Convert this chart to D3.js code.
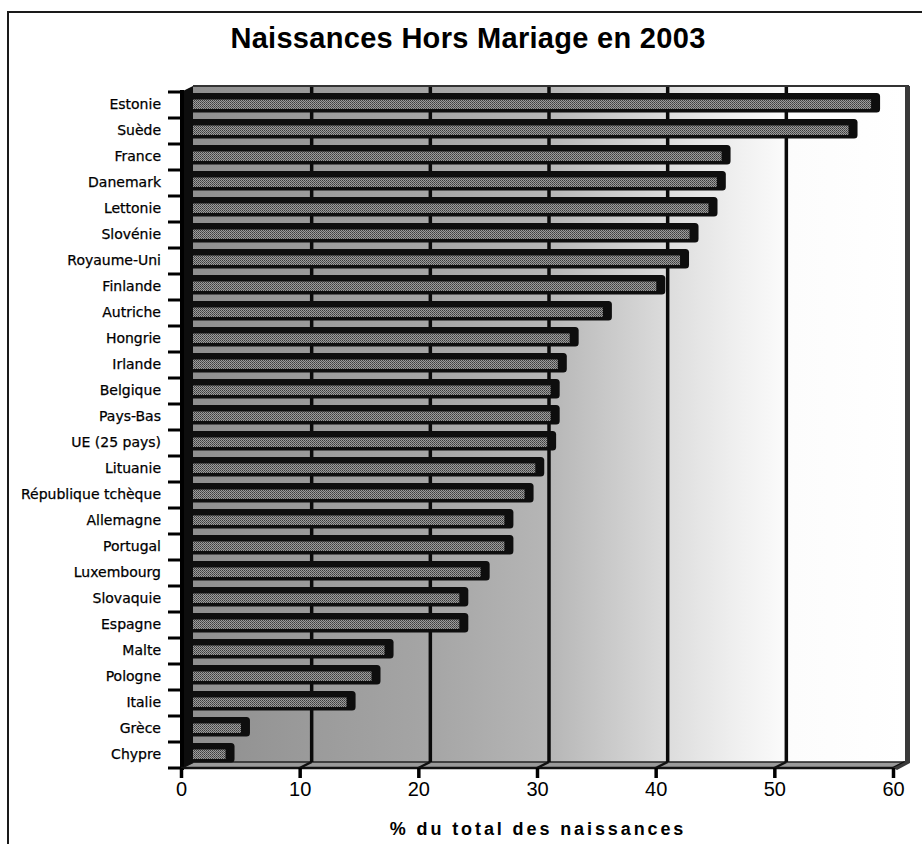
<!DOCTYPE html>
<html><head><meta charset="utf-8">
<script src="https://cdn.jsdelivr.net/npm/d3@7"></script>
<style>html,body{margin:0;padding:0;background:#fff;}svg{display:block;}</style>
</head><body>
<svg id="chart" width="922" height="844"></svg>
<script>
const title = "Naissances Hors Mariage en 2003";
const xTitle = "% du total des naissances";
const categories = ["Estonie","Suède","France","Danemark","Lettonie","Slovénie","Royaume-Uni","Finlande","Autriche","Hongrie","Irlande","Belgique","Pays-Bas","UE (25 pays)","Lituanie","République tchèque","Allemagne","Portugal","Luxembourg","Slovaquie","Espagne","Malte","Pologne","Italie","Grèce","Chypre"];
const values = [57.9,56.0,45.3,44.9,44.2,42.6,41.8,39.8,35.3,32.5,31.5,30.9,30.9,30.6,29.6,28.7,27.0,27.0,25.0,23.2,23.2,16.9,15.8,13.7,4.8,3.5];
const xTicks = [0,10,20,30,40,50,60];
const gridTicks = [10,20,30,40,50];

const svg = d3.select("#chart");
const depthX = 12, depthY = 6;
const xFront = d3.scaleLinear().domain([0,60]).range([181,893]);
const xBack = d3.scaleLinear().domain([0,60]).range([181+depthX,893+depthX]);
const y = d3.scaleBand().domain(categories).range([92,768]).padding(0);
const yTop = 92 - depthY, yBottomBack = 768 - depthY, yBottom = 768;

const defs = svg.append("defs");
const pat = defs.append("pattern").attr("id","barfill").attr("patternUnits","userSpaceOnUse")
  .attr("width",2).attr("height",2);
pat.append("rect").attr("width",2).attr("height",2).attr("fill","#9c9c9c");
pat.append("rect").attr("x",0).attr("y",0).attr("width",1).attr("height",1).attr("fill","#3c3c3c");
pat.append("rect").attr("x",1).attr("y",1).attr("width",1).attr("height",1).attr("fill","#555");

// frame
svg.append("rect").attr("x",8).attr("y",12).attr("width",940).attr("height",860)
  .attr("fill","none").attr("stroke","#1a1a1a").attr("stroke-width",2);

// title
svg.append("text").attr("x",468).attr("y",48).attr("text-anchor","middle")
  .attr("font-family","Liberation Sans, Arial, sans-serif").attr("font-weight","bold")
  .attr("font-size",29).attr("letter-spacing",0.3).attr("fill","#000").text(title);

// wall gradient
const grad = defs.append("linearGradient").attr("id","wall").attr("gradientUnits","userSpaceOnUse")
  .attr("x1",xBack(0)).attr("x2",xBack(60)).attr("y1",0).attr("y2",0);
[[0,"#8f8f8f"],[0.17,"#9b9b9b"],[0.33,"#a5a5a5"],[0.5,"#b6b6b6"],[0.6,"#cdcdcd"],[0.67,"#dddddd"],[0.76,"#efefef"],[0.84,"#fcfcfc"],[1,"#ffffff"]]
  .forEach(([o,c])=>grad.append("stop").attr("offset",o).attr("stop-color",c));

// back wall
svg.append("rect").attr("x",xBack(0)).attr("y",yTop).attr("width",xBack(60)-xBack(0))
  .attr("height",yBottomBack-yTop).attr("fill","url(#wall)");

// floor
svg.append("path").attr("d",`M${xBack(0)},${yBottomBack}L${xBack(60)},${yBottomBack}L${xFront(60)},${yBottom}L${xFront(0)},${yBottom}Z`)
  .attr("fill","#9a9a9a").attr("stroke","#222").attr("stroke-width",1.5);
svg.append("g").selectAll("line").data(xTicks).join("line")
  .attr("x1",d=>xBack(d)).attr("y1",yBottomBack).attr("x2",d=>xFront(d)).attr("y2",yBottom)
  .attr("stroke","#111").attr("stroke-width",2.5);

// gridlines on back wall
svg.append("g").selectAll("line").data(gridTicks).join("line")
  .attr("x1",d=>xBack(d)).attr("x2",d=>xBack(d)).attr("y1",yTop).attr("y2",yBottomBack)
  .attr("stroke","#0a0a0a").attr("stroke-width",3.5);

// top edge of wall
svg.append("line").attr("x1",xBack(0)).attr("x2",xBack(60)+4).attr("y1",yTop).attr("y2",yTop)
  .attr("stroke","#333").attr("stroke-width",2);
// right edge of wall
svg.append("path").attr("d",`M${xBack(60)},${yTop}L${xBack(60)+5},${yTop}L${xBack(60)+5},${yBottomBack+1}L${xFront(60)+4},${yBottom+2}L${xFront(60)},${yBottom}L${xBack(60)},${yBottomBack}Z`)
  .attr("fill","#3a3a3a");

// bars
const bars = svg.append("g");
categories.forEach((c,i)=>{
  const t = y(c), v = values[i], xe = xBack(v);
  bars.append("rect").attr("x",186).attr("y",t+1).attr("width",xe-186).attr("height",19.5)
    .attr("rx",3.5).attr("fill","#0e0e0e");
  bars.append("rect").attr("x",190).attr("y",t+7.5).attr("width",Math.max(0,xe-9-190)).attr("height",9.5)
    .attr("fill","url(#barfill)");
});

// left wall
svg.append("path").attr("d",`M${xFront(0)},${92}L${xBack(0)},${yTop}L${xBack(0)},${yBottomBack}L${xFront(0)},${yBottom}Z`)
  .attr("fill","#0d0d0d");
svg.append("rect").attr("x",xFront(0)-1).attr("y",90).attr("width",4).attr("height",680).attr("fill","#000");

// left boundary ticks
const bounds = categories.map(c=>y(c)).concat([y.range()[1]]);
svg.append("g").selectAll("line").data(bounds).join("line")
  .attr("x1",168).attr("x2",xFront(0)).attr("y1",d=>d).attr("y2",d=>d)
  .attr("stroke","#000").attr("stroke-width",3);

// category labels
svg.append("g").selectAll("text").data(categories).join("text")
  .attr("x",161).attr("y",c=>y(c)+y.bandwidth()/2-1).attr("dy","0.35em")
  .attr("text-anchor","end").attr("font-family","DejaVu Sans, Verdana, sans-serif")
  .attr("font-size",14).attr("fill","#000").attr("stroke","#000").attr("stroke-width",0.25)
  .text(c=>c);

// x axis
const xAxis = d3.axisBottom(xFront).tickValues(xTicks).tickSize(10).tickPadding(4).tickFormat(d3.format("d"));
const gx = svg.append("g").attr("transform",`translate(0,${yBottom})`).call(xAxis);
gx.select(".domain").attr("stroke","#111").attr("stroke-width",2.5).attr("d",`M${xFront(0)},0H${xFront(60)}`);
gx.selectAll(".tick line").attr("stroke","#000").attr("stroke-width",3.5);
gx.selectAll(".tick text").attr("font-family","Liberation Sans, Arial, sans-serif")
  .attr("font-size",20).attr("fill","#000");

// x title
svg.append("text").attr("x",538).attr("y",835).attr("text-anchor","middle")
  .attr("font-family","Liberation Sans, Arial, sans-serif").attr("font-weight","bold")
  .attr("font-size",18).attr("letter-spacing",2.9).attr("fill","#000").text(xTitle);
</script>
</body></html>
